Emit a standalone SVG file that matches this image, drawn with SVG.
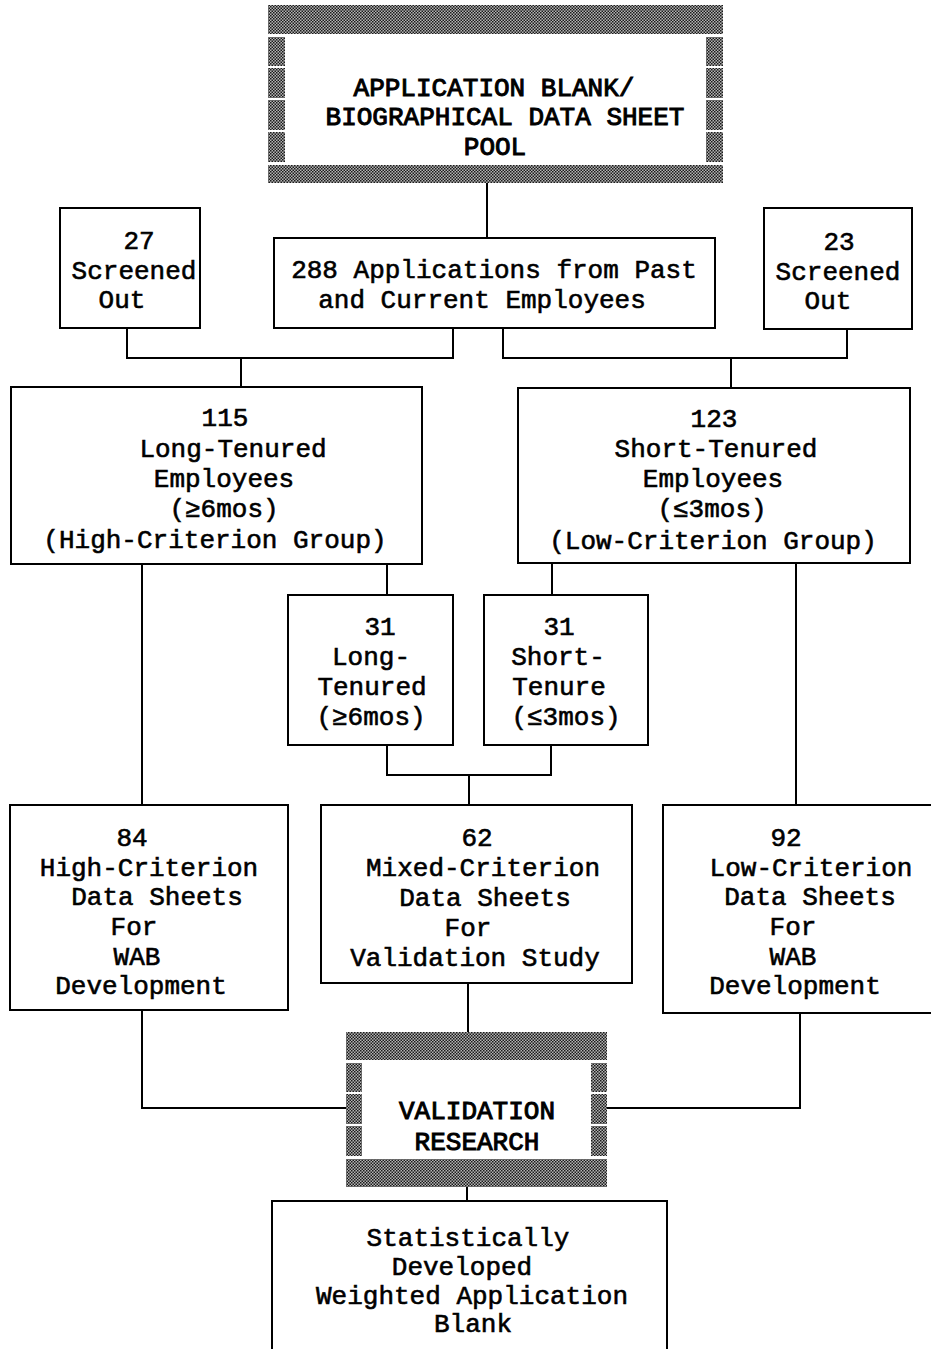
<svg xmlns="http://www.w3.org/2000/svg" width="931" height="1349" viewBox="0 0 931 1349">
<style>
.bg{fill:#fff}
.box{fill:#fff;stroke:#000;stroke-width:2}
.hat{fill:url(#hatch)}
.cn{fill:none;stroke:#000;stroke-width:2}
text{font-family:"Liberation Mono","Courier New",monospace;font-size:26px;fill:#000;stroke:#000;stroke-width:0.6;text-anchor:middle}
text.b{stroke-width:1}
</style>
<defs>
<pattern id="hatch" width="3" height="3" patternUnits="userSpaceOnUse">
<rect width="3" height="3" fill="#b4b4b4"/>
<rect width="1.5" height="1.5" fill="#1a1a1a"/>
<rect x="1.5" y="1.5" width="1.5" height="1.5" fill="#1a1a1a"/>
</pattern>
</defs>
<rect class="bg" width="931" height="1349"/>

<g id="connectors">
<path class="cn" d="M487 183V238"/>
<path class="cn" d="M127 328V358H453V328M241 358V387"/>
<path class="cn" d="M503 328V358H847V329M731 358V388"/>
<path class="cn" d="M142 564V805M387 564V595"/>
<path class="cn" d="M552 563V595M796 563V805"/>
<path class="cn" d="M387 745V775H551V745M469 775V805"/>
<path class="cn" d="M142 1010V1108H346"/>
<path class="cn" d="M468 983V1032"/>
<path class="cn" d="M800 1013V1108H607"/>
<path class="cn" d="M467 1187V1201"/>
</g>

<g id="pool">
<rect class="hat" x="268" y="5" width="455" height="29"/>
<rect class="hat" x="268" y="165" width="455" height="18"/>
<rect class="hat" x="268" y="37" width="17" height="29"/>
<rect class="hat" x="268" y="68" width="17" height="30"/>
<rect class="hat" x="268" y="100" width="17" height="30"/>
<rect class="hat" x="268" y="132" width="17" height="30"/>
<rect class="hat" x="706" y="37" width="17" height="29"/>
<rect class="hat" x="706" y="68" width="17" height="30"/>
<rect class="hat" x="706" y="100" width="17" height="30"/>
<rect class="hat" x="706" y="132" width="17" height="30"/>
<text class="b" x="494" y="96">APPLICATION BLANK/</text>
<text class="b" x="505" y="125">BIOGRAPHICAL DATA SHEET</text>
<text class="b" x="495" y="155">POOL</text>
</g>

<g id="n288">
<rect class="box" x="274" y="238" width="441" height="90"/>
<text x="494" y="278">288 Applications from Past</text>
<text x="482" y="308">and Current Employees</text>
</g>

<g id="n27">
<rect class="box" x="60" y="208" width="140" height="120"/>
<text x="139" y="249">27</text>
<text x="134" y="279">Screened</text>
<text x="122" y="308">Out</text>
</g>

<g id="n23">
<rect class="box" x="764" y="208" width="148" height="121"/>
<text x="839" y="250">23</text>
<text x="838" y="280">Screened</text>
<text x="828" y="309">Out</text>
</g>

<g id="n115">
<rect class="box" x="11" y="387" width="411" height="177"/>
<text x="225" y="426">115</text>
<text x="233" y="457">Long-Tenured</text>
<text x="224" y="487">Employees</text>
<text x="224" y="517">(≥6mos)</text>
<text x="215" y="548">(High-Criterion Group)</text>
</g>

<g id="n123">
<rect class="box" x="518" y="388" width="392" height="175"/>
<text x="714" y="427">123</text>
<text x="716" y="457">Short-Tenured</text>
<text x="713" y="487">Employees</text>
<text x="712" y="517">(≤3mos)</text>
<text x="713" y="549">(Low-Criterion Group)</text>
</g>

<g id="n31long">
<rect class="box" x="288" y="595" width="165" height="150"/>
<text x="380" y="635">31</text>
<text x="371" y="665">Long-</text>
<text x="372" y="695">Tenured</text>
<text x="371" y="725">(≥6mos)</text>
</g>

<g id="n31short">
<rect class="box" x="484" y="595" width="164" height="150"/>
<text x="559" y="635">31</text>
<text x="558" y="665">Short-</text>
<text x="559" y="695">Tenure</text>
<text x="566" y="725">(≤3mos)</text>
</g>

<g id="n84">
<rect class="box" x="10" y="805" width="278" height="205"/>
<text x="132" y="846">84</text>
<text x="149" y="876">High-Criterion</text>
<text x="157" y="905">Data Sheets</text>
<text x="134" y="935">For</text>
<text x="137" y="965">WAB</text>
<text x="141" y="994">Development</text>
</g>

<g id="n62">
<rect class="box" x="321" y="805" width="311" height="178"/>
<text x="477" y="846">62</text>
<text x="483" y="876">Mixed-Criterion</text>
<text x="485" y="906">Data Sheets</text>
<text x="468" y="936">For</text>
<text x="475" y="966">Validation Study</text>
</g>

<g id="n92">
<rect class="box" x="663" y="805" width="275" height="208"/>
<text x="786" y="846">92</text>
<text x="811" y="876">Low-Criterion</text>
<text x="810" y="905">Data Sheets</text>
<text x="793" y="935">For</text>
<text x="793" y="965">WAB</text>
<text x="795" y="994">Development</text>
</g>

<g id="validation">
<rect class="hat" x="346" y="1032" width="261" height="28"/>
<rect class="hat" x="346" y="1159" width="261" height="28"/>
<rect class="hat" x="346" y="1063" width="16" height="29"/>
<rect class="hat" x="346" y="1094" width="16" height="30"/>
<rect class="hat" x="346" y="1126" width="16" height="30"/>
<rect class="hat" x="591" y="1063" width="16" height="29"/>
<rect class="hat" x="591" y="1094" width="16" height="30"/>
<rect class="hat" x="591" y="1126" width="16" height="30"/>
<text class="b" x="477" y="1119">VALIDATION</text>
<text class="b" x="477" y="1150">RESEARCH</text>
</g>

<g id="wab">
<rect class="box" x="272" y="1201" width="395" height="170"/>
<text x="468" y="1246">Statistically</text>
<text x="462" y="1275">Developed</text>
<text x="472" y="1304">Weighted Application</text>
<text x="473" y="1332">Blank</text>
</g>
</svg>
